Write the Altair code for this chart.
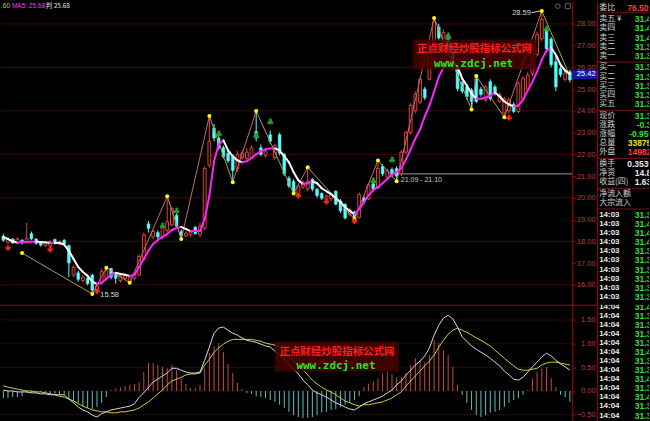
import altair as alt
import pandas as pd

# ---------------- daily candles ----------------
opens = [18.24, 17.95, 18.10, 17.95, 18.05, 17.95, 18.35, 18.10, 17.92, 17.80,
         17.78, 18.08, 17.88, 18.05, 17.80, 16.45, 16.55, 16.20, 16.30, 16.45,
         15.72, 16.10, 16.30, 16.75, 16.50, 16.20, 16.30, 16.15, 16.30, 16.45,
         17.20, 18.80, 18.20, 18.40, 18.20, 18.50, 18.75, 19.20, 18.45, 18.25,
         18.30, 18.65, 18.30, 18.60, 21.50, 23.20, 22.75, 22.30, 22.05, 21.90,
         21.35, 21.85, 21.80, 21.85, 23.05, 22.30, 21.95, 22.90, 21.85, 22.90,
         22.00, 20.90, 20.75, 20.10, 20.50, 20.40, 20.85, 20.40, 20.20, 19.95,
         19.95, 20.30, 19.85, 19.70, 19.25, 19.35, 19.10, 20.00, 19.95, 20.65,
         20.45, 21.45, 20.95, 21.30, 21.35, 21.10, 22.10, 23.00, 24.00, 24.40,
         25.00, 25.45, 27.20, 27.85, 27.20, 27.50, 26.70, 25.95, 25.30, 25.10,
         24.95, 25.48, 25.00, 24.50, 25.34, 25.10, 24.45, 23.90, 24.00, 24.29,
         23.97, 24.56, 25.00, 25.71, 26.58, 27.31, 27.77, 27.30, 26.26, 25.94,
         25.45, 25.80]
highs = [18.35, 18.20, 18.15, 18.20, 18.10, 18.84, 18.45, 18.15, 17.98, 18.00,
         18.05, 18.12, 18.05, 18.10, 17.85, 16.90, 16.65, 16.45, 16.40, 16.50,
         16.05, 16.75, 16.78, 16.78, 16.55, 16.50, 16.50, 16.45, 16.60, 17.40,
         18.40, 18.93, 18.55, 18.50, 18.75, 20.07, 19.60, 19.30, 18.55, 18.45,
         18.50, 18.70, 18.85, 21.45, 23.76, 23.40, 23.00, 22.40, 22.15, 22.00,
         22.15, 22.20, 22.30, 22.40, 23.99, 22.45, 22.30, 23.10, 22.50, 23.00,
         22.05, 21.00, 20.85, 20.60, 20.80, 21.40, 20.90, 20.45, 20.25, 20.15,
         20.25, 20.35, 19.95, 19.75, 19.55, 19.40, 20.25, 20.10, 20.70, 20.75,
         21.72, 21.55, 21.35, 21.40, 21.45, 22.20, 23.10, 24.35, 24.90, 25.55,
         25.10, 27.20, 28.27, 28.00, 27.75, 27.60, 26.90, 26.10, 25.40, 25.20,
         25.05, 25.60, 25.10, 25.20, 25.45, 25.20, 24.85, 24.65, 24.60, 24.40,
         25.35, 25.60, 25.80, 27.00, 27.65, 28.59, 27.90, 27.40, 26.50, 26.05,
         25.85, 25.90]
lows = [17.98, 17.90, 17.88, 17.90, 17.85, 17.90, 18.05, 17.85, 17.75, 17.75,
        17.70, 17.85, 17.82, 17.85, 16.35, 16.35, 16.15, 16.10, 15.98, 15.58,
        15.62, 16.00, 16.20, 16.25, 16.05, 16.10, 16.20, 16.09, 16.20, 16.40,
        17.10, 18.40, 18.10, 18.10, 18.10, 18.40, 18.70, 18.60, 18.10, 18.20,
        18.20, 18.30, 18.20, 18.50, 21.40, 22.60, 22.20, 21.80, 21.60, 20.72,
        21.20, 21.75, 21.70, 21.80, 22.60, 21.90, 21.85, 22.50, 21.75, 21.95,
        21.00, 20.45, 20.15, 20.00, 20.40, 20.30, 20.30, 20.00, 19.90, 19.85,
        19.85, 19.65, 19.30, 19.00, 19.15, 19.02, 19.05, 19.70, 19.90, 20.30,
        20.40, 21.00, 20.85, 20.95, 20.76, 21.00, 22.00, 22.90, 23.90, 24.30,
        24.50, 25.40, 27.10, 27.20, 27.10, 26.50, 25.90, 24.90, 24.80, 24.50,
        24.06, 24.35, 24.65, 24.40, 24.45, 24.70, 24.35, 23.70, 23.85, 23.90,
        23.90, 24.50, 24.95, 25.60, 26.50, 27.20, 26.70, 26.00, 24.90, 25.55,
        25.35, 25.30]
closes = [18.05, 18.10, 17.92, 18.10, 17.95, 18.12, 18.12, 17.90, 17.82, 17.92,
          17.95, 17.90, 17.98, 17.90, 17.00, 16.80, 16.25, 16.35, 16.05, 15.75,
          15.95, 16.60, 16.65, 16.35, 16.30, 16.40, 16.42, 16.35, 16.50, 17.30,
          18.30, 18.60, 18.45, 18.20, 18.65, 18.90, 19.50, 18.70, 18.25, 18.38,
          18.42, 18.35, 18.70, 21.35, 22.60, 22.75, 22.30, 21.90, 21.70, 21.25,
          22.00, 22.05, 22.10, 22.30, 22.75, 22.00, 22.15, 22.60, 22.40, 22.05,
          21.10, 20.55, 20.20, 20.55, 20.70, 20.75, 20.40, 20.10, 19.98, 20.08,
          20.15, 19.71, 19.40, 19.07, 19.45, 19.07, 20.15, 19.80, 20.60, 20.40,
          21.35, 21.10, 21.25, 21.05, 21.00, 22.10, 23.00, 24.25, 24.75, 25.45,
          24.60, 27.00, 28.10, 27.35, 27.60, 26.70, 26.00, 25.02, 24.90, 24.66,
          24.43, 24.43, 24.75, 25.10, 24.56, 24.80, 24.75, 24.55, 24.50, 23.97,
          25.25, 25.48, 25.65, 26.85, 27.50, 28.20, 26.85, 26.12, 25.10, 25.66,
          25.71, 25.42]

# smoothed MA5 trend line
ma5 = [18.20, 18.10, 18.00, 17.93, 17.95, 17.97, 17.98, 17.99, 17.97, 17.95,
       17.93, 17.93, 17.92, 17.85, 17.56, 17.19, 16.82, 16.59, 16.41, 16.14,
       16.04, 16.09, 16.27, 16.46, 16.55, 16.50, 16.46, 16.41, 16.46, 16.82,
       17.19, 17.56, 17.88, 18.06, 18.20, 18.33, 18.52, 18.61, 18.66, 18.56,
       18.47, 18.47, 18.47, 19.02, 20.08, 21.68, 22.46, 22.64, 22.18, 21.91,
       21.72, 21.63, 21.68, 21.82, 22.00, 22.14, 22.23, 22.27, 22.27, 22.18,
       21.91, 21.63, 21.18, 20.81, 20.63, 20.67, 20.76, 20.67, 20.44, 20.30,
       20.17, 19.98, 19.80, 19.57, 19.39, 19.25, 19.48, 19.80, 20.12, 20.35,
       20.49, 20.67, 20.86, 21.08, 21.18, 21.36, 21.77, 22.23, 22.73, 23.14,
       23.74, 24.24, 24.89, 25.57, 25.98, 26.26, 26.21, 26.03, 25.48, 25.16,
       24.79, 24.56, 24.56, 24.61, 24.70, 24.84, 24.66, 24.43, 24.29, 24.20,
       24.24, 24.52, 24.93, 25.34, 25.80, 26.35, 26.76, 26.90, 26.58, 26.12,
       25.85, 25.68]

# swing points (bar index, price)
swing_idx = [4, 19, 22, 27, 35, 38, 44, 49, 54, 62, 65, 75, 80, 84, 92, 100, 101, 107, 115, 121]
swing_px = [17.46, 15.58, 16.78, 16.09, 20.07, 18.10, 23.76, 20.72, 23.99, 20.20,
            21.40, 19.02, 21.72, 20.76, 28.27, 24.06, 25.60, 23.70, 28.59, 25.60]

# buy signals and club signals
buy_idx = [1, 10, 20, 63, 69, 75, 108]
buy_px = [17.69, 17.62, 15.70, 20.10, 19.82, 18.92, 23.68]
club_idx = [34, 37, 46, 54, 57, 79, 83, 95, 116]
club_px = [18.70, 19.39, 22.92, 22.83, 23.47, 20.76, 21.72, 27.40, 27.77]

# MACD
dif = [0.02, 0.00, 0.00, -0.02, -0.02, -0.02, -0.04, -0.04, -0.06, -0.06,
       -0.08, -0.08, -0.08, -0.08, -0.17, -0.25, -0.34, -0.40, -0.44, -0.51,
       -0.55, -0.48, -0.44, -0.40, -0.38, -0.36, -0.34, -0.32, -0.27, -0.13,
       -0.04, 0.08, 0.19, 0.25, 0.32, 0.38, 0.48, 0.48, 0.44, 0.40,
       0.38, 0.38, 0.40, 0.65, 0.93, 1.22, 1.33, 1.35, 1.28, 1.22,
       1.18, 1.12, 1.07, 1.05, 1.03, 0.99, 0.95, 0.93, 0.84, 0.76,
       0.67, 0.57, 0.46, 0.36, 0.23, 0.13, 0.02, -0.04, -0.08, -0.13,
       -0.19, -0.25, -0.29, -0.34, -0.38, -0.40, -0.34, -0.27, -0.23, -0.19,
       -0.15, -0.11, -0.04, 0.02, 0.13, 0.21, 0.34, 0.44, 0.55, 0.63,
       0.74, 0.91, 1.18, 1.39, 1.54, 1.60, 1.52, 1.35, 1.14, 1.05,
       0.95, 0.88, 0.82, 0.76, 0.69, 0.61, 0.53, 0.42, 0.34, 0.25,
       0.23, 0.29, 0.40, 0.51, 0.61, 0.72, 0.80, 0.74, 0.65, 0.57,
       0.51, 0.44]
dea = [0.11, 0.08, 0.06, 0.04, 0.02, 0.00, 0.00, -0.02, -0.02, -0.04,
       -0.06, -0.08, -0.11, -0.13, -0.17, -0.21, -0.27, -0.32, -0.36, -0.40,
       -0.42, -0.44, -0.44, -0.46, -0.46, -0.44, -0.44, -0.42, -0.40, -0.36,
       -0.29, -0.23, -0.15, -0.06, 0.02, 0.13, 0.21, 0.25, 0.29, 0.34,
       0.36, 0.36, 0.38, 0.55, 0.67, 0.82, 0.91, 0.99, 1.05, 1.09,
       1.09, 1.09, 1.09, 1.09, 1.07, 1.05, 1.01, 0.99, 0.97, 0.93,
       0.84, 0.74, 0.63, 0.53, 0.44, 0.34, 0.23, 0.15, 0.08, 0.02,
       -0.02, -0.08, -0.15, -0.21, -0.25, -0.29, -0.32, -0.29, -0.29, -0.27,
       -0.25, -0.23, -0.19, -0.15, -0.08, -0.02, 0.11, 0.21, 0.32, 0.42,
       0.53, 0.63, 0.76, 0.93, 1.07, 1.20, 1.28, 1.33, 1.28, 1.24,
       1.18, 1.12, 1.07, 1.01, 0.95, 0.86, 0.78, 0.69, 0.61, 0.53,
       0.46, 0.44, 0.44, 0.46, 0.48, 0.55, 0.59, 0.61, 0.61, 0.59,
       0.57, 0.55]
macd_bar = [-0.15, -0.15, -0.13, -0.13, -0.11, -0.04, -0.04, -0.02, -0.02, -0.04,
            -0.06, -0.06, -0.08, -0.08, -0.17, -0.21, -0.25, -0.32, -0.36, -0.38,
            -0.34, -0.25, -0.13, 0.02, 0.06, 0.08, 0.11, 0.13, 0.15, 0.19,
            0.40, 0.59, 0.59, 0.55, 0.51, 0.48, 0.55, 0.44, 0.27, 0.15,
            0.06, 0.06, 0.13, 0.48, 0.80, 0.95, 1.01, 0.82, 0.57, 0.38,
            0.17, 0.04, -0.04, -0.06, -0.11, -0.13, -0.15, -0.19, -0.23, -0.29,
            -0.36, -0.44, -0.51, -0.55, -0.57, -0.57, -0.55, -0.51, -0.46, -0.44,
            -0.40, -0.38, -0.34, -0.29, -0.25, -0.19, -0.11, 0.08, 0.15, 0.21,
            0.27, 0.36, 0.40, 0.36, 0.29, 0.29, 0.38, 0.55, 0.69, 0.65,
            0.61, 0.76, 1.07, 1.01, 0.86, 0.76, 0.51, 0.13, -0.08, -0.25,
            -0.40, -0.51, -0.55, -0.51, -0.46, -0.44, -0.40, -0.34, -0.25, -0.19,
            -0.15, -0.08, 0.02, 0.27, 0.40, 0.48, 0.51, 0.27, 0.08, -0.08,
            -0.13, -0.23]

price_ticks = [16, 17, 18, 19, 20, 21, 22, 23, 24, 25, 26, 27, 28]
price_grid = [16, 18, 20, 22, 24, 26, 28]
macd_ticks = [-0.5, 0.0, 0.5, 1.0, 1.5]
last_price = 25.42
band_price = 21.10
band_text = "21.09 - 21.10"

# quote board
quote_names = ["委比", "卖五 ¥", "卖四", "卖三", "卖二", "卖一",
               "买一", "买二", "买三", "买四", "买五",
               "现价", "涨跌", "涨幅", "总量", "外盘",
               "换手", "净资", "收益(四)", "净流入额", "大宗流入"]
quote_values = ["76.50%", "31.43", "31.42", "31.41", "31.39", "31.38",
                "31.37", "31.36", "31.35", "31.34", "31.33",
                "31.38", "-0.30", "-0.95%", "338756", "149827",
                "0.353%", "14.80", "1.631", "", ""]
quote_kind = ["up", "down", "down", "down", "down", "down",
              "down", "down", "down", "down", "down",
              "down", "down", "down", "vol", "up",
              "plain", "plain", "plain", "plain", "plain"]
quote_group = [0, 1, 1, 1, 1, 1, 2, 2, 2, 2, 2, 3, 3, 3, 3, 3, 4, 4, 4, 5, 5]
tick_time_a = ["14:03"] * 10
tick_price_a = ["31.39", "31.40", "31.40", "31.40", "31.39", "31.39", "31.39", "31.39", "31.39", "31.39"]
tick_time_b = ["14:04"] * 13
tick_price_b = ["31.40", "31.38", "31.39", "31.38", "31.39", "31.40", "31.39",
                "31.39", "31.40", "31.39", "31.40", "31.38", "31.37"]

# ---------------- styling ----------------
RED = "#e8403a"
CYAN = "#54fcfc"
MAGENTA = "#ff22ff"
WHITE = "#ffffff"
FRAME = "#b40000"
LABEL_RED = "#c03a3a"
GRID = "#3c0a0a"
PW, PH, MH, SW = 573, 304, 117, 52
N = len(closes)

xs = alt.Scale(domain=[-0.5, N - 0.5], nice=False, zero=False)
ps = alt.Scale(domain=[15.083, 29.022], nice=False, zero=False)
ms = alt.Scale(domain=[-0.641, 1.822], nice=False, zero=False)


def right_axis(values):
    return alt.Axis(orient="right", values=values, format=".2f", title=None, grid=False,
                    domainColor=FRAME, domainWidth=1, tickColor=FRAME, tickSize=3,
                    labelColor=LABEL_RED, labelFont="Liberation Sans", labelFontSize=7.5,
                    labelAlign="right", labelBaseline="middle", labelPadding=20,
                    labelFlush=False, labelOverlap=False)


pax = right_axis(price_ticks)
max_ = right_axis(macd_ticks)
X = lambda f: alt.X(f, type="quantitative", scale=xs, axis=None)
PY = lambda f: alt.Y(f, type="quantitative", scale=ps, axis=pax)
MY = lambda f: alt.Y(f, type="quantitative", scale=ms, axis=max_)
C = alt.Color("col:N", scale=None)

# ---------------- price panel ----------------
k = pd.DataFrame({"i": range(N), "open": opens, "high": highs, "low": lows, "close": closes})
k["trend"] = ["up" if c >= o else "down" for o, c in zip(opens, closes)]
k["col"] = [RED if t == "up" else CYAN for t in k["trend"]]
k["x0"] = k["i"] - 0.3
k["x1"] = k["i"] + 0.3
k["bot"] = k[["open", "close"]].min(axis=1)
k["top"] = k[["open", "close"]].max(axis=1).where(
    k[["open", "close"]].max(axis=1) - k["bot"] > 0.05, k["bot"] + 0.05)

grid_df = pd.DataFrame({"v": price_grid})
grid = alt.Chart(grid_df).mark_rule(color=GRID, strokeWidth=1).encode(y=PY("v"))

wick = alt.Chart(k).mark_rule(strokeWidth=1).encode(x=X("i"), y=PY("low"), y2="high", color=C)
body_up = alt.Chart(k).transform_filter("datum.trend == 'up'").mark_rect(
    fill="#000000", stroke=RED, strokeWidth=1).encode(x=X("x0"), x2="x1", y=PY("bot"), y2="top")
body_dn = alt.Chart(k).transform_filter("datum.trend == 'down'").mark_rect(
    fill=CYAN, stroke=CYAN, strokeWidth=0.5).encode(x=X("x0"), x2="x1", y=PY("bot"), y2="top")

ma = pd.DataFrame({"i": list(range(N - 1)), "i2": list(range(1, N)), "v": ma5[:-1], "v2": ma5[1:]})
ma["col"] = [MAGENTA if b >= a else WHITE for a, b in zip(ma5[:-1], ma5[1:])]
ma_line = alt.Chart(ma).mark_rule(strokeWidth=2, strokeCap="round").encode(
    x=X("i"), x2="i2", y=PY("v"), y2="v2", color=C)

sw = pd.DataFrame({"i": swing_idx[:-1], "i2": swing_idx[1:], "v": swing_px[:-1], "v2": swing_px[1:]})
sw["col"] = ["#c46a6a" if b >= a else "#a8a050" for a, b in zip(swing_px[:-1], swing_px[1:])]
swing = alt.Chart(sw).mark_rule(strokeWidth=1).encode(
    x=X("i"), x2="i2", y=PY("v"), y2="v2", color=C)
dots = alt.Chart(pd.DataFrame({"i": swing_idx[:-1], "v": swing_px[:-1]})).mark_circle(
    size=16, color="#ffff00", opacity=1).encode(x=X("i"), y=PY("v"))

buys = alt.Chart(pd.DataFrame({"i": buy_idx, "v": buy_px})).mark_point(
    shape="cross", filled=True, size=30, color="#ff2020", opacity=1).encode(x=X("i"), y=PY("v"))
clubs = alt.Chart(pd.DataFrame({"i": club_idx, "v": club_px})).mark_text(
    text="♣", font="DejaVu Sans", fontSize=9, color="#22a022", baseline="middle").encode(x=X("i"), y=PY("v"))

band = alt.Chart(pd.DataFrame({"i": [83.6], "i2": [N - 0.5], "v": [band_price]})).mark_rule(
    color="#9c9c9c", strokeWidth=1).encode(x=X("i"), x2="i2", y=PY("v"))
band_lbl = alt.Chart(pd.DataFrame({"i": [84.9], "v": [band_price], "t": [band_text]})).mark_text(
    align="left", baseline="top", dy=2, fontSize=7, font="Liberation Sans", color="#c8c8c8").encode(
    x=X("i"), y=PY("v"), text="t:N")

lo_i = swing_idx[1]
hi_i = swing_idx[-2]
lo_lbl = alt.Chart(pd.DataFrame({"i": [lo_i], "v": [swing_px[1]], "t": [f"{swing_px[1]:.2f}"]})).mark_text(
    align="left", baseline="middle", dx=8, dy=1, fontSize=7.5, font="Liberation Sans", color="#d8d8d8").encode(
    x=X("i"), y=PY("v"), text="t:N")
hi_lbl = alt.Chart(pd.DataFrame({"i": [hi_i], "v": [swing_px[-2]], "t": [f"{swing_px[-2]:.2f}"]})).mark_text(
    align="right", baseline="middle", dx=-11, dy=2, fontSize=7.5, font="Liberation Sans", color="#d8d8d8").encode(
    x=X("i"), y=PY("v"), text="t:N")
hi_tick = alt.Chart(pd.DataFrame({"i": [hi_i - 2.2], "i2": [hi_i - 0.4], "v": [swing_px[-2] - 0.08],
                                  "v2": [swing_px[-2]]})).mark_rule(color="#d8d8d8", strokeWidth=1).encode(
    x=X("i"), x2="i2", y=PY("v"), y2="v2")

# current-price tag on the axis, sitting just above its price level
tag = pd.DataFrame({"i": [N - 0.5], "i2": [N - 0.5 + 26 * N / PW], "c": [N - 0.5 + 13 * N / PW],
                    "p": [last_price], "t": [f"{last_price:.2f}"]})
tag_box = alt.Chart(tag).mark_rect(color="#1818a8", yOffset=-10, y2Offset=-1).encode(
    x=X("i"), x2="i2", y=PY("p"), y2=alt.Y2("p"))
tag_txt = alt.Chart(tag).mark_text(fontSize=7.5, font="Liberation Sans", color="#ffffff", dx=1, dy=-5.5).encode(
    x=X("c"), y=PY("p"), text="t:N")

hdr_a = alt.Chart(pd.DataFrame({"t": [".60"]})).mark_text(
    align="left", baseline="top", fontSize=6.5, font="Liberation Sans", color="#c8c850").encode(
    x=alt.value(0), y=alt.value(1), text="t:N")
hdr_b = alt.Chart(pd.DataFrame({"t": [f"MA5: {ma5[-1]:.2f}"]})).mark_text(
    align="left", baseline="top", fontSize=6.5, font="Liberation Sans", color="#ff30ff").encode(
    x=alt.value(11), y=alt.value(1), text="t:N")
hdr_c = alt.Chart(pd.DataFrame({"t": [f"判 {ma5[-1]:.2f}"]})).mark_text(
    align="left", baseline="top", fontSize=6.5, font="Noto Sans CJK SC", color="#e0e0e0").encode(
    x=alt.value(45), y=alt.value(1), text="t:N")
# two small window buttons in the top-right corner of the price pane
btn_a = alt.Chart(pd.DataFrame({"a": [0]})).mark_point(
    shape="circle", size=22, color="#8a8a8a", strokeWidth=1, filled=False).encode(
    x=alt.value(558.5), y=alt.value(4.5))
btn_b = alt.Chart(pd.DataFrame({"a": [0]})).mark_point(
    shape="square", size=26, color="#8a8a8a", strokeWidth=1, filled=False).encode(
    x=alt.value(568.5), y=alt.value(4.5))


def watermark(cx, cy):
    box = alt.Chart(pd.DataFrame({"a": [0]})).mark_rect(color="#4a0000", opacity=0.85).encode(
        x=alt.value(cx - 62), x2=alt.value(cx + 62), y=alt.value(cy - 10), y2=alt.value(cy + 20))
    cn = alt.Chart(pd.DataFrame({"t": ["正点财经炒股指标公式网"]})).mark_text(
        fontSize=10.5, font="Noto Sans CJK SC", fontWeight="bold", color="#ff1e1e", baseline="middle").encode(
        x=alt.value(cx), y=alt.value(cy), text="t:N")
    en = alt.Chart(pd.DataFrame({"t": ["www.zdcj.net"]})).mark_text(
        fontSize=11, font="DejaVu Sans Mono", fontWeight="bold", color="#22e622", baseline="middle").encode(
        x=alt.value(cx - 1), y=alt.value(cy + 14.5), text="t:N")
    return [box, cn, en]


price = alt.layer(grid, band, wick, body_dn, body_up, swing, ma_line, dots, buys, clubs,
                  band_lbl, lo_lbl, hi_lbl, hi_tick, tag_box, tag_txt,
                  *watermark(475, 48), hdr_a, hdr_b, hdr_c, btn_a, btn_b).properties(width=PW, height=PH)

# ---------------- MACD panel ----------------
m = pd.DataFrame({"i": range(N), "dif": dif, "dea": dea, "bar": macd_bar})
m["col"] = ["#c84848" if b >= 0 else "#5cc0c0" for b in macd_bar]
m_grid = alt.Chart(pd.DataFrame({"v": macd_ticks})).mark_rule(color="#2a0a0a", strokeWidth=1).encode(y=MY("v"))
m_bar = alt.Chart(m).mark_rule(strokeWidth=1).encode(x=X("i"), y=MY("bar"), y2=alt.datum(0), color=C)
m_dif = alt.Chart(m).mark_line(color="#d8d8d8", strokeWidth=1).encode(x=X("i"), y=MY("dif"))
m_dea = alt.Chart(m).mark_line(color="#cccc3c", strokeWidth=1).encode(x=X("i"), y=MY("dea"))
m_top = alt.Chart(pd.DataFrame({"a": [0]})).mark_rule(color=FRAME, strokeWidth=1).encode(
    x=alt.value(0), x2=alt.value(PW + 25), y=alt.value(0.5))
macd = alt.layer(m_grid, m_bar, m_dea, m_dif, m_top, *watermark(337, 351 - PH)).properties(width=PW, height=MH)

# ---------------- quote board ----------------
rows = []
for k_, (n_, v_, c_, g_) in enumerate(zip(quote_names, quote_values, quote_kind, quote_group)):
    rows.append({"name": n_, "val": v_, "kind": c_, "y": 6 + 9.2 * k_ + 2.4 * g_, "tick": 0})
for j, (t_, p_) in enumerate(zip(tick_time_a, tick_price_a)):
    k_ = len(quote_names) + j
    rows.append({"name": t_, "val": p_, "kind": "down", "y": 6 + 9.2 * k_ + 2.4 * 6, "tick": 1})
board = pd.DataFrame(rows)
sep = pd.DataFrame({"y": [6 + 9.2 * 0 + 5.2, 6 + 9.2 * 5 + 2.4 + 6.2, 6 + 9.2 * 10 + 4.8 + 6.2,
                          6 + 9.2 * 15 + 7.2 + 6.0, 6 + 9.2 * 18 + 9.6 + 6.0, 6 + 9.2 * 20 + 12 + 6.0]})
kind_color = {"up": "#ff3c3c", "down": "#30e030", "vol": "#e8e800", "plain": "#e8e8e8"}


def board_chart(df, seps, h):
    df = df.copy()
    df["col"] = [kind_color[v] for v in df["kind"]]
    ys = alt.Scale(domain=[0, h], reverse=True, nice=False, zero=False)
    border = alt.Chart(pd.DataFrame({"a": [0]})).mark_rule(color=FRAME, strokeWidth=1).encode(
        x=alt.value(0.5), y=alt.value(0), y2=alt.value(h))
    layers = [border]
    if seps is not None:
        layers.append(alt.Chart(seps).mark_rule(color="#701818", strokeWidth=1).encode(
            x=alt.value(0), x2=alt.value(SW), y=alt.Y("y:Q", scale=ys, axis=None)))
    names_cn = alt.Chart(df).transform_filter("datum.tick == 0").mark_text(
        align="left", baseline="middle", fontSize=8, font="Noto Sans CJK SC", color="#d0d0d0", clip=True).encode(
        x=alt.value(2), y=alt.Y("y:Q", scale=ys, axis=None), text="name:N")
    names_t = alt.Chart(df).transform_filter("datum.tick == 1").mark_text(
        align="left", baseline="middle", fontSize=8, font="Liberation Sans", fontWeight="bold",
        color="#e8e8e8", clip=True).encode(
        x=alt.value(2), y=alt.Y("y:Q", scale=ys, axis=None), text="name:N")
    vals = alt.Chart(df).mark_text(
        align="right", baseline="middle", fontSize=8.5, font="Liberation Sans", fontWeight="bold", clip=True).encode(
        x=alt.value(59), y=alt.Y("y:Q", scale=ys, axis=None), text="val:N", color=C)
    layers += [names_cn, names_t, vals]
    return alt.layer(*layers).properties(width=SW, height=h)


board_top = board_chart(board, sep, PH)
board_b = pd.DataFrame({"name": tick_time_b, "val": tick_price_b, "kind": "down",
                        "y": [2 + 9.1 * j for j in range(len(tick_time_b))], "tick": 1})
board_bottom = board_chart(board_b, None, MH)

chart = alt.concat(price, board_top, macd, board_bottom, columns=2,
                   spacing={"row": 0, "column": 25}, bounds="flush").properties(
    background="#000000", padding=0).configure_view(stroke=None)

chart.save("out.html", embed_options={"renderer": "svg", "actions": False})
